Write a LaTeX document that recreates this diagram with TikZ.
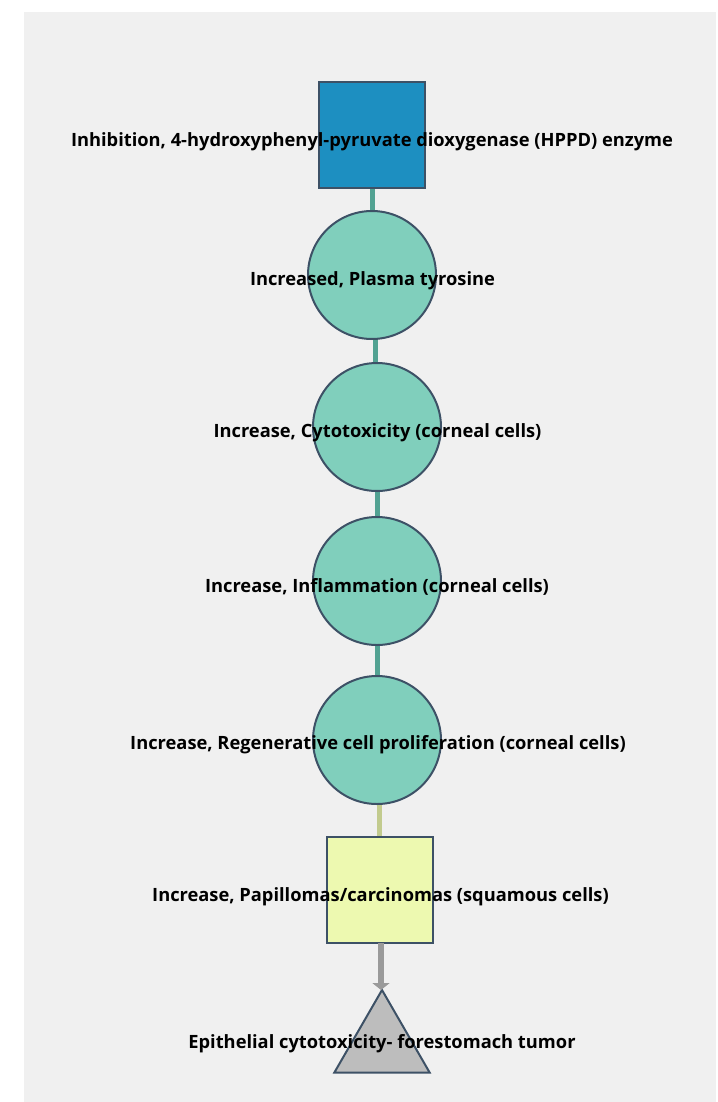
\documentclass[tikz,border=0pt]{standalone}
\usepackage{fontspec}
\setmainfont{Open Sans}
\usetikzlibrary{shapes.geometric,arrows.meta,backgrounds}
\definecolor{bg}{HTML}{F0F0F0}
\definecolor{bd}{HTML}{3D5166}
\definecolor{blue1}{HTML}{1D8FC1}
\definecolor{teal1}{HTML}{80CFBC}
\definecolor{tealedge}{HTML}{52A292}
\definecolor{yel1}{HTML}{EDF9B0}
\definecolor{yeledge}{HTML}{C2CB8E}
\definecolor{gray1}{HTML}{BDBDBD}
\definecolor{grayedge}{HTML}{9A9A9A}
\tikzset{
  shp/.style={draw=bd, line width=2pt, inner sep=0pt, outer sep=0pt},
  sq/.style={shp, rectangle, minimum size=106pt},
  circ/.style={shp, circle, minimum size=128pt, fill=teal1},
  tri/.style={shp, regular polygon, regular polygon sides=3, minimum size=110pt, fill=gray1},
  lbl/.style={font=\fontsize{18.3pt}{20pt}\selectfont\bfseries, text=black, inner sep=0pt},
  edge/.style={line width=5pt},
}
\begin{document}
\begin{tikzpicture}[x=1pt,y=-1pt]
\useasboundingbox (0,0) rectangle (717,1102);
\node[sq, fill=blue1] (n1) at (372,135) {};
\node[circ] (n2) at (372,275) {};
\node[circ] (n3) at (377,427) {};
\node[circ] (n4) at (377,581) {};
\node[circ] (n5) at (377,740) {};
\node[sq, fill=yel1] (n6) at (380,890) {};
\node[tri] (n7) at (382,1045) {};
\coordinate (m1) at (372,0);
\coordinate (m2) at (375,0);
\coordinate (m3) at (377,0);
\coordinate (m5) at (379.5,0);
\coordinate (m6) at (381,0);
\begin{scope}[on background layer]
\fill[bg] (24,12) rectangle (716,1102);
\draw[edge, tealedge] (n1 -| m1) -- (n2 -| m1);
\draw[edge, tealedge] (n2 -| m2) -- (n3 -| m2);
\draw[edge, tealedge] (n3 -| m3) -- (n4 -| m3);
\draw[edge, tealedge] (n4 -| m3) -- (n5 -| m3);
\draw[edge, yeledge] (n5 -| m5) -- (n6 -| m5);
\end{scope}
\draw[edge, grayedge, line width=5.5pt, -{Triangle[width=17pt,length=7pt]}] (n6.south -| m6) -- (n7.north -| m6);
\node[lbl] (t1) at (372,142) {Inhibition, 4-hydroxyphenyl-pyruvate dioxygenase (HPPD) enzyme};
\node[lbl] (t2) at (372.5,281) {Increased, Plasma tyrosine};
\node[lbl] (t3) at (377.5,433) {Increase, Cytotoxicity (corneal cells)};
\node[lbl] (t4) at (377,587) {Increase, Inflammation (corneal cells)};
\node[lbl] (t5) at (378,745) {Increase, Regenerative cell proliferation (corneal cells)};
\node[lbl] (t6) at (380.5,897) {Increase, Papillomas/carcinomas (squamous cells)};
\node[lbl] (t7) at (382,1044) {Epithelial cytotoxicity- forestomach tumor};
\end{tikzpicture}
\end{document}
